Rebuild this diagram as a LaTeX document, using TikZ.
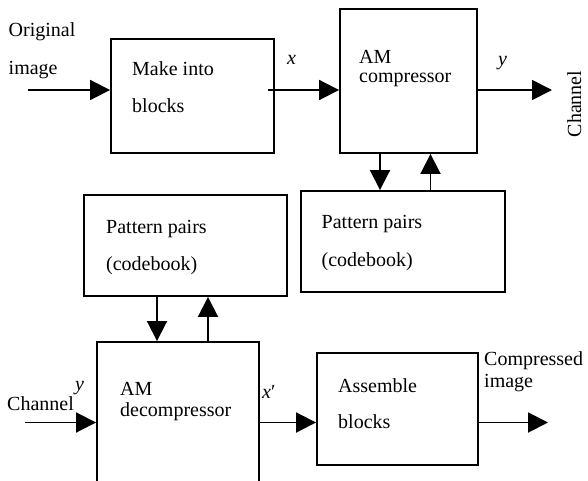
\documentclass[tikz,border=0pt]{standalone}
\usepackage{fontspec}
\setmainfont{Liberation Serif}
\usetikzlibrary{arrows.meta}
\tikzset{>={Triangle[length=20pt,width=20pt]}}
\newcommand{\lblfont}[1]{\fontsize{20}{#1}\selectfont}
\tikzstyle{blk} = [rectangle, draw, line width=1.9pt, inner sep=0]
\tikzstyle{lbl} = [draw=none, inner sep=0, anchor=base west, align=left]
\tikzstyle{sig} = [->, line width=1.9pt]

\begin{document}
\begin{tikzpicture}[x=1pt, y=-1pt, font=\lblfont{24}]
\useasboundingbox (0,0) rectangle (588,481);
\clip (0,0) rectangle (588,481);
% blocks
\node [blk, minimum width=163pt, minimum height=114pt] (mib) at (192.5,96) {};
\node [blk, minimum width=137pt, minimum height=144pt] (amc) at (408.5,81) {};
\node [blk, minimum width=204pt, minimum height=101pt] (ppr) at (403,241.5) {};
\node [blk, minimum width=203pt, minimum height=101pt] (ppl) at (185.5,245.5) {};
\node [blk, minimum width=162pt, minimum height=158pt] (amd) at (178,421) {};
\node [blk, minimum width=161pt, minimum height=112pt] (asb) at (397.5,409) {};
% texts (base = last line)
\node [lbl, font=\lblfont{38}] (orig) at (8.5,75) {Original\\image};
\node [lbl, font=\lblfont{37}] (mibt) at (132,113) {Make into\\blocks};
\node [lbl, font=\lblfont{19.5}] (amct) at (359,83) {AM\\compressor};
\node [lbl, font=\lblfont{38}] (pprt) at (321.5,266.5) {Pattern pairs\\(codebook)};
\node [lbl, font=\lblfont{37}] (pplt) at (106,270) {Pattern pairs\\(codebook)};
\node [lbl, font=\lblfont{21}] (amdt) at (120,416) {AM\\decompressor};
\node [lbl, font=\lblfont{36}] (asbt) at (338,428) {Assemble\\blocks};
\node [lbl, font=\lblfont{22}] (cmpt) at (484,387) {Compressed\\image};
\node [lbl] (xa) at (287,65) {\textit{x}};
\node [lbl] (ya) at (498,65.5) {\textit{y}};
\node [draw=none, inner sep=0, anchor=base, rotate=90] (chr) at (581,104) {Channel};
\node [lbl] (yb) at (75,390.5) {\textit{y}};
\node [lbl] (chl) at (7,410) {Channel};
\node [lbl] (xb) at (262,398) {\textit{x}′};
% connectors
\coordinate (src) at (28,90);
\coordinate (snk) at (552,90);
\coordinate (chin) at (25,422.5);
\coordinate (out) at (548,422.5);
\draw [sig] (src) to (src -| mib.west);
\draw [sig] ([xshift=-7pt]mib.east |- src) to (amc.west |- src);
\draw [sig] (amc.east |- src) to (snk);
\draw [sig] ([xshift=-28.5pt]amc.south) to ([xshift=-28.5pt]amc.south |- ppr.north);
\draw [sig] ([xshift=22pt]amc.south |- ppr.north) to ([xshift=22pt]amc.south);
\draw [sig] ([xshift=-28.5pt]ppl.south) to ([xshift=-28.5pt]ppl.south |- amd.north);
\draw [sig] ([xshift=22.5pt]ppl.south |- amd.north) to ([xshift=22.5pt]ppl.south);
\draw [sig] (chin) to (chin -| amd.west);
\draw [sig] (amd.east |- chin) to (asb.west |- chin);
\draw [sig] (asb.east |- out) to (out);
\end{tikzpicture}
\end{document}
